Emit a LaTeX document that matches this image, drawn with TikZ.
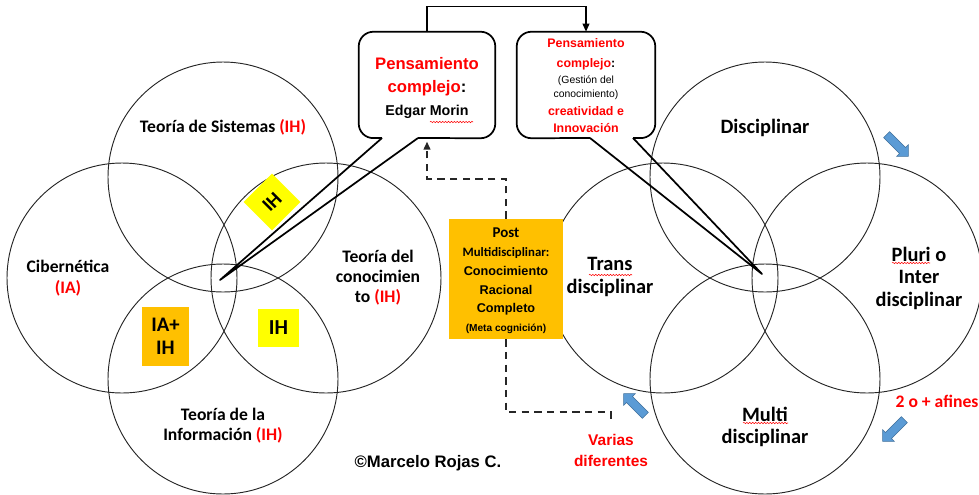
\documentclass[tikz,border=0pt]{standalone}
\usepackage{fontspec}
\setmainfont{Carlito}
\newfontfamily\arialf{Liberation Sans}
\usetikzlibrary{arrows.meta,shapes.arrows,decorations.pathmorphing}
\definecolor{myred}{RGB}{255,0,0}
\definecolor{myorange}{RGB}{255,192,0}
\definecolor{myyellow}{RGB}{255,255,0}
\definecolor{myblue}{RGB}{91,155,213}
\definecolor{mybluedark}{RGB}{65,113,156}
\begin{document}
\begin{tikzpicture}[x=0.75pt,y=-0.75pt,
  venn/.style={draw=black!85, line width=0.7pt, circle, minimum size=172.5pt, inner sep=0pt},
  lbl/.style={font=\bfseries\fontsize{13.2}{15}\selectfont, align=center, inner sep=0pt},
  rlbl/.style={font=\bfseries\fontsize{15.3}{16.6}\selectfont, align=center, inner sep=0pt},
  boxnode/.style={minimum width=#1, minimum height=79.5pt, inner sep=0pt},
  callout/.style={line width=1.3pt, rounded corners=11pt, line join=round},
  ptr/.style={line width=1.3pt, line join=round},
  dashline/.style={line width=1.4pt, dash pattern=on 5.5pt off 4pt, black!85},
  bluearrow/.style={single arrow, fill=myblue, draw=mybluedark, line width=0.4pt, minimum height=23pt, minimum width=12pt, single arrow head extend=3pt, inner xsep=0pt, inner ysep=3pt},
  spell/.style={myred, line width=0.4pt, decorate, decoration={snake, amplitude=0.5pt, segment length=2.2pt}},
]
\useasboundingbox (0,0) rectangle (979,494);

% left Venn
\node[venn] (cs) at (223,177) {};
\node[venn] (cc) at (122,278) {};
\node[venn] (ck) at (326,278) {};
\node[venn] (ci) at (223,379) {};
% right Venn
\node[venn] (rd) at (765,177) {};
\node[venn] (rt) at (663,278) {};
\node[venn] (rp) at (867,278) {};
\node[venn] (rm) at (765,379) {};

% left labels
\node[lbl] (ls) at (223,127) {Teoría de Sistemas \textcolor{myred}{(IH)}};
\node[lbl, font=\bfseries\fontsize{13.2}{15.75}\selectfont] (lc) at (68,278) {Cibernética\\\textcolor{myred}{(IA)}};
\node[lbl] (lk) at (378,278) {Teoría del\\conocimien\\to \textcolor{myred}{(IH)}};
\node[lbl] (li) at (223,426) {Teoría de la\\Información \textcolor{myred}{(IH)}};

% coloured boxes
\node[fill=myyellow, minimum size=30pt, rotate=45, inner sep=0pt, font=\bfseries\fontsize{15}{15}\selectfont] (dh) at (272,202) {IH};
\node[fill=myorange, minimum width=35pt, minimum height=44pt, align=center, inner sep=0pt, font=\bfseries\fontsize{15.5}{17.3}\selectfont] (iaih) at (165.5,336.5) {IA+\\IH};
\node[fill=myyellow, minimum width=31pt, minimum height=28.5pt, inner sep=0pt, font=\bfseries\fontsize{16}{16}\selectfont] (ihb) at (278.5,328) {IH};

% right labels
\node[rlbl] (rdl) at (765,128) {Disciplinar};
\node[rlbl] (rtl) at (610,277) {Trans\\disciplinar};
\node[rlbl, font=\bfseries\fontsize{15.3}{16.9}\selectfont] (rpl) at (919,278) {Pluri o\\Inter\\disciplinar};
\node[rlbl] (rml) at (765,427) {Multi\\disciplinar};

% spell-check underlines
\draw[spell] (589,275) -- (632,275);
\draw[spell] (892,263) -- (930,263);
\draw[spell] (743,423) -- (788,423);

% post box
\node[fill=myorange, minimum width=85.5pt, minimum height=90pt, inner sep=0pt] (or) at (506,279) {};
\node[align=center, inner sep=0pt, font=\bfseries\fontsize{9.5}{14.1}\selectfont] (ort) at (506,281)
 {{\fontsize{11.2}{14.1}\selectfont Post}\\{\fontsize{9.6}{14.1}\selectfont Multidisciplinar:}\\{\arialf\bfseries Conocimiento}\\{\arialf\bfseries Racional}\\{\arialf\bfseries Completo}\\{\arialf\bfseries\fontsize{7.6}{14.1}\selectfont (Meta cognición)}};

% callout boxes
\node[boxnode=102pt] (b1) at (427,85) {};
\node[boxnode=103.5pt] (b2) at (586,85) {};
\coordinate (t1) at (220,280);
\coordinate (t2) at (762,274);
\draw[callout] (382,138) -- (b1.south west) -- (b1.north west) -- (b1.north east) -- (b1.south east) -- (418,138);
\draw[ptr] (418,138) -- (t1) -- (382,138);
\draw[callout] (590,138) -- (b2.south west) -- (b2.north west) -- (b2.north east) -- (b2.south east) -- (633,138);
\draw[ptr] (633,138) -- (t2) -- (590,138);

\node[align=center, inner sep=0pt, font=\arialf\bfseries\fontsize{12.5}{17.6}\selectfont] (b1t) at (427,88)
 {\textcolor{myred}{Pensamiento}\\\textcolor{myred}{complejo}:\\{\fontsize{10.7}{17.6}\selectfont Edgar Morin}};
\draw[spell] (430,122) -- (473,122);
\node[align=center, inner sep=0pt, font=\arialf\bfseries\fontsize{9.3}{10.5}\selectfont] (b2t) at (586,86)
 {\textcolor{myred}{Pensamiento}\\[4.5pt]\textcolor{myred}{complejo}:\\[1.5pt]{\mdseries\fontsize{7.8}{10.5}\selectfont (Gestión del}\\{\mdseries\fontsize{7.8}{10.5}\selectfont conocimiento)}\\[3pt]\textcolor{myred}{creatividad e}\\[2.2pt]\textcolor{myred}{Innovación}};

% connectors
\draw[line width=1.1pt, -{Triangle[length=6pt,width=5pt]}] (b1.north) -- ++(0,-25) -| (b2.north);
\draw[dashline, -{Triangle[length=6pt,width=5pt]}] (or.north) -- ++(0,-40) -| ([yshift=-2.5pt]b1.south);
\coordinate (vd) at (611,423);
\draw[dashline] (or.south) -- ++(0,73) -| (vd);

% red notes
\node[align=center, inner sep=0pt, text=myred, font=\arialf\bfseries\fontsize{11.6}{15.75}\selectfont] (vard) at (611,450) {Varias\\diferentes};
\node[inner sep=0pt, text=myred, font=\bfseries\fontsize{13.2}{15}\selectfont] (af) at (937,401) {2 o + afines};
\node[inner sep=0pt, font=\arialf\bfseries\fontsize{12.5}{14}\selectfont] (cr) at (428,463) {©Marcelo Rojas C.};

% blue arrows
\node[bluearrow, rotate=-45] (a1) at (896,144) {};
\node[bluearrow, rotate=-135] (a2) at (895,429) {};
\node[bluearrow, rotate=135] (a3) at (636,406) {};
\end{tikzpicture}
\end{document}
